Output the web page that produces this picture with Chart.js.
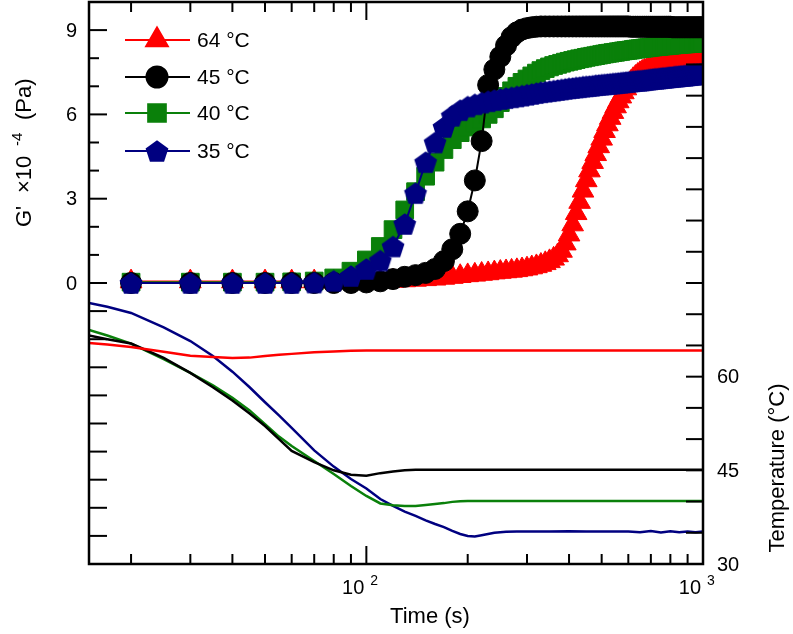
<!DOCTYPE html>
<html>
<head>
<meta charset="utf-8">
<script src="https://cdn.jsdelivr.net/npm/chart.js@4.4.1/dist/chart.umd.min.js"></script>
<style>
  html, body { margin: 0; padding: 0; background: #fff; }
  #wrap { width: 793px; height: 634px; }
</style>
</head>
<body>
<div id="wrap"><canvas id="gelChart" width="793" height="634"></canvas></div>
<script>
// sampling times of the G' measurements (s)
const times = [20,30,40,50,60,70,80,90,100,110,120,130,140,150,160,170,180,190,200,210,
  220,230,240,250,260,270,280,290,300,310,320,330,340,350,360,370,380,390,400,410,
  420,430,440,450,460,470,480,490,500,510,520,530,540,550,560,570,580,590,600,610,
  620,630,640,650,660,670,680,690,700,710,720,730,740,750,760,770,780,790,800,810,
  820,830,840,850,860,870,880,890,900,910,920,930,940,950,960,970,980,990,1000];

// G' x 10^-4 (Pa)
const g64 = [0.05,0.05,0.05,0.05,0.05,0.05,0.05,0.05,0.05,
  0.06,0.07,0.09,0.11,0.13,0.15,0.18,0.21,0.24,0.27,
  0.29,0.32,0.34,0.37,0.39,0.41,0.43,0.45,0.48,0.51,
  0.55,0.59,0.64,0.7,0.77,0.86,0.98,1.14,1.4,1.72,
  2.08,2.48,2.88,3.28,3.65,4.0,4.3,4.58,4.86,5.13,
  5.4,5.64,5.87,6.08,6.28,6.46,6.63,6.78,6.92,7.04,
  7.15,7.25,7.33,7.4,7.46,7.51,7.55,7.58,7.61,7.63,
  7.65,7.67,7.68,7.69,7.7,7.71,7.72,7.73,7.73,7.74,
  7.75,7.75,7.76,7.76,7.77,7.77,7.78,7.78,7.79,7.79,
  7.8,7.8,7.8,7.81,7.81,7.81,7.82,7.82,7.82,7.83];
const g45 = [0,0,0,0,0,0,0,0,0.02,
  0.06,0.14,0.22,0.28,0.36,0.5,0.78,1.2,1.75,2.55,
  3.65,5.05,7.05,7.6,8.05,8.45,8.75,8.92,9.02,9.07,
  9.1,9.12,9.13,9.13,9.13,9.13,9.13,9.13,9.13,9.13,
  9.13,9.13,9.13,9.13,9.13,9.13,9.13,9.13,9.13,9.13,
  9.13,9.13,9.13,9.13,9.13,9.13,9.13,9.13,9.13,9.13,
  9.12,9.12,9.12,9.12,9.12,9.12,9.12,9.12,9.12,9.12,
  9.12,9.12,9.12,9.12,9.12,9.12,9.12,9.12,9.12,9.12,
  9.1,9.1,9.1,9.1,9.1,9.1,9.1,9.1,9.1,9.1,
  9.1,9.1,9.1,9.1,9.1,9.1,9.1,9.1,9.1,9.1];
const g40 = [0.03,0.03,0.03,0.03,0.04,0.07,0.18,0.42,0.82,
  1.3,1.9,2.6,3.25,3.8,4.3,4.75,5.1,5.35,5.55,
  5.7,5.84,6.0,6.2,6.42,6.64,6.84,7.0,7.14,7.26,
  7.37,7.47,7.56,7.63,7.69,7.74,7.78,7.82,7.86,7.89,
  7.92,7.95,7.98,8.0,8.03,8.05,8.07,8.09,8.11,8.13,
  8.15,8.17,8.18,8.2,8.21,8.23,8.24,8.26,8.27,8.28,
  8.29,8.31,8.32,8.33,8.34,8.35,8.36,8.37,8.38,8.39,
  8.4,8.41,8.41,8.42,8.43,8.44,8.44,8.45,8.46,8.46,
  8.47,8.48,8.48,8.49,8.49,8.5,8.5,8.51,8.51,8.52,
  8.52,8.53,8.53,8.54,8.54,8.54,8.55,8.55,8.55,8.56];
const g35 = [0,0,0,0,0,0.02,0.08,0.25,0.5,
  0.8,1.3,2.1,3.2,4.3,5.0,5.55,5.95,6.15,6.28,
  6.36,6.42,6.47,6.51,6.55,6.58,6.61,6.64,6.67,6.7,
  6.73,6.76,6.79,6.81,6.83,6.85,6.87,6.89,6.91,6.93,
  6.94,6.96,6.97,6.99,7.0,7.01,7.02,7.04,7.05,7.06,
  7.07,7.08,7.09,7.1,7.11,7.12,7.13,7.14,7.15,7.16,
  7.17,7.18,7.19,7.2,7.2,7.21,7.22,7.23,7.24,7.25,
  7.26,7.27,7.27,7.28,7.29,7.3,7.3,7.31,7.32,7.33,
  7.33,7.34,7.35,7.35,7.36,7.37,7.37,7.38,7.38,7.39,
  7.4,7.4,7.41,7.42,7.42,7.43,7.43,7.44,7.44,7.45];

// temperature logs (°C)
const tempTimes = [15,17,20,25,30,35,40,45,50,55,60,70,80,90,100,110,120,130,140,150,
  160,170,180,190,200,210,220,240,260,280,300,350,400,450,500,550,600,650,700,750,
  800,850,900,950,1000];
const t64 = [65.4,65.15,64.75,64.0,63.35,63.15,63.0,63.05,63.3,63.5,
  63.65,63.9,64.05,64.15,64.2,64.2,64.2,64.2,64.2,64.2,
  64.2,64.2,64.2,64.2,64.2,64.2,64.2,64.2,64.2,64.2,
  64.2,64.2,64.2,64.2,64.2,64.2,64.2,64.2,64.2,64.2,
  64.2,64.2,64.2,64.2,64.2];
const t45 = [66.6,66.0,65.3,63.0,60.6,58.3,56.2,54.1,52.1,50.0,
  48.1,46.3,45.0,44.3,44.15,44.55,44.8,45.0,45.1,45.1,
  45.1,45.1,45.1,45.1,45.1,45.1,45.1,45.1,45.1,45.1,
  45.1,45.1,45.1,45.1,45.1,45.1,45.1,45.1,45.1,45.1,
  45.1,45.1,45.1,45.1,45.1];
const t40 = [67.5,66.6,65.3,62.8,60.6,58.6,56.6,54.6,52.4,50.4,
  48.9,46.5,44.4,42.5,40.9,39.7,39.4,39.3,39.3,39.45,
  39.6,39.75,39.95,40.05,40.1,40.1,40.1,40.1,40.1,40.1,
  40.1,40.1,40.1,40.1,40.1,40.1,40.1,40.1,40.1,40.1,
  40.1,40.1,40.1,40.1,40.1];
const t35 = [71.8,71.2,70.2,67.9,65.7,63.3,60.8,58.3,55.9,53.8,
  51.8,48.2,45.6,43.6,42.1,40.4,39.3,38.4,37.7,37.0,
  36.4,35.9,35.3,34.8,34.5,34.4,34.6,35.0,35.15,35.2,
  35.2,35.2,35.25,35.2,35.2,35.2,35.2,35.1,35.3,35.05,
  35.25,35.1,35.2,35.1,35.2];

const seriesLabels = ['64 °C', '45 °C', '40 °C', '35 °C'];

// axis ticks
const xMinorTicks = [20,30,40,50,60,70,80,90,200,300,400,500,600,700,800,900];
const xMajorTicks = [100];
const xTickLabels = [[100, '2'], [1000, '3']];
const gTicks = [-9,-8,-7,-6,-5,-4,-3,-2,-1,0,1,2,3,4,5,6,7,8,9];
const gTickLabels = [0, 3, 6, 9];
const tempTicks = [35,40,45,50,55,60,65,70,75,80,85,90,95,100,105,110,115];
const tempTickLabels = [30, 45, 60];

const FONT = "'Liberation Sans', Arial, Helvetica, sans-serif";
const RED = '#ff0000', BLACK = '#000000', GREEN = '#0a800a', NAVY = '#000080';

function pentagon(color, r) {
    const c = document.createElement('canvas');
    const s = Math.ceil(2 * r) + 2;
    c.width = s;
    c.height = s;
    const g = c.getContext('2d');
    const shift = (r - r * Math.cos(Math.PI / 5)) / 2;
    g.fillStyle = color;
    g.beginPath();
    for (let k = 0; k < 5; k++) {
        const a = -Math.PI / 2 + k * 2 * Math.PI / 5;
        const px = s / 2 + r * Math.cos(a);
        const py = s / 2 + shift + r * Math.sin(a);
        if (k === 0) g.moveTo(px, py); else g.lineTo(px, py);
    }
    g.closePath();
    g.fill();
    return c;
}
const pentaImg = pentagon(NAVY, 12);

function pairs(xs, ys) {
    return xs.map((x, i) => ({ x: x, y: ys[i] }));
}

function gSet(label, values, color, style, radius) {
    return {
        label: label,
        data: pairs(times, values),
        yAxisID: 'y',
        borderColor: color,
        backgroundColor: color,
        borderWidth: 2,
        pointStyle: style,
        pointRadius: radius,
        pointBorderWidth: 1,
        pointBackgroundColor: color,
        pointBorderColor: color,
        clip: 0
    };
}

function tSet(label, values, color) {
    return {
        label: label,
        data: pairs(tempTimes, values),
        yAxisID: 'y2',
        borderColor: color,
        borderWidth: 2.5,
        pointRadius: 0,
        fill: false,
        clip: 0
    };
}

const dsRed = gSet(seriesLabels[0], g64, RED, 'triangle', 12.5);
const dsBlack = gSet(seriesLabels[1], g45, BLACK, 'circle', 10.5);
const dsGreen = gSet(seriesLabels[2], g40, GREEN, 'rect', 12.5);
const dsBlue = gSet(seriesLabels[3], g35, NAVY, pentaImg, 12);

const axesPlugin = {
    id: 'axesPlugin',
    afterDraw(chart) {
        const ctx = chart.ctx;
        const a = chart.chartArea;
        const sx = chart.scales.x, sy = chart.scales.y, st = chart.scales.y2;
        const seg = (x1, y1, x2, y2) => {
            ctx.beginPath();
            ctx.moveTo(x1, y1);
            ctx.lineTo(x2, y2);
            ctx.stroke();
        };
        ctx.save();
        ctx.strokeStyle = '#000';
        ctx.lineWidth = 2;
        xMinorTicks.forEach(v => {
            const p = sx.getPixelForValue(v);
            seg(p, a.bottom, p, a.bottom - 10);
            seg(p, a.top, p, a.top + 10);
        });
        xMajorTicks.forEach(v => {
            const p = sx.getPixelForValue(v);
            seg(p, a.bottom, p, a.bottom - 18);
            seg(p, a.top, p, a.top + 18);
        });
        gTicks.forEach(v => {
            const p = sy.getPixelForValue(v);
            const len = (v <= 0 || v % 3 === 0) ? 18 : 10;
            seg(a.left, p, a.left + len, p);
        });
        tempTicks.forEach(v => {
            const p = st.getPixelForValue(v);
            seg(a.right, p, a.right - 17, p);
        });
        ctx.lineWidth = 2.5;
        ctx.strokeRect(a.left, a.top, a.right - a.left, a.bottom - a.top);

        // tick labels
        ctx.fillStyle = '#000';
        ctx.font = '20px ' + FONT;
        ctx.textBaseline = 'middle';
        ctx.textAlign = 'right';
        gTickLabels.forEach(v => ctx.fillText(String(v), a.left - 12, sy.getPixelForValue(v) + 1));
        ctx.textAlign = 'left';
        tempTickLabels.forEach(v => ctx.fillText(String(v), a.right + 14, st.getPixelForValue(v) + 1));
        ctx.textBaseline = 'alphabetic';
        xTickLabels.forEach(([v, e]) => {
            const p = sx.getPixelForValue(v);
            ctx.font = '20px ' + FONT;
            ctx.textAlign = 'right';
            ctx.fillText('10', p - 2, 594);
            ctx.font = '14px ' + FONT;
            ctx.textAlign = 'left';
            ctx.fillText(e, p + 4, 585);
        });

        // axis titles
        ctx.font = '22px ' + FONT;
        ctx.textAlign = 'center';
        ctx.fillText('Time (s)', 430, 623);

        ctx.save();
        ctx.translate(784, 468);
        ctx.rotate(-Math.PI / 2);
        ctx.textAlign = 'center';
        ctx.fillText('Temperature (°C)', 0, 0);
        ctx.restore();

        ctx.save();
        ctx.translate(31, 153);
        ctx.rotate(-Math.PI / 2);
        ctx.textAlign = 'left';
        ctx.font = '22px ' + FONT;
        ctx.fillText("G'", -74, 0);
        ctx.fillText('\u00d710', -40, 0);
        ctx.fillText('(Pa)', 33, 0);
        ctx.font = '15px ' + FONT;
        ctx.fillText('-4', 7, -9);
        ctx.restore();

        // legend inside the plot
        const rows = [[dsRed, 40], [dsBlack, 77], [dsGreen, 113], [dsBlue, 151]];
        rows.forEach(([ds, y]) => {
            ctx.strokeStyle = ds.borderColor;
            ctx.fillStyle = ds.borderColor;
            ctx.lineWidth = 2;
            seg(125, y, 190, y);
            Chart.helpers.drawPoint(ctx, {
                pointStyle: ds.pointStyle,
                radius: ds.pointRadius,
                rotation: 0,
                borderWidth: 1
            }, 157, y);
            ctx.fillStyle = '#000';
            ctx.font = '21px ' + FONT;
            ctx.textAlign = 'left';
            ctx.textBaseline = 'middle';
            ctx.fillText(ds.label, 197, y + 1);
        });
        ctx.restore();
    }
};

const config = {
    type: 'line',
    data: {
        datasets: [
            dsBlue, dsBlack, dsGreen, dsRed,
            tSet('T 64', t64, RED),
            tSet('T 45', t45, BLACK),
            tSet('T 40', t40, GREEN),
            tSet('T 35', t35, NAVY)
        ]
    },
    options: {
        responsive: false,
        animation: false,
        devicePixelRatio: 1,
        layout: { autoPadding: false, padding: { top: 2, left: 0, right: 0, bottom: 0 } },
        plugins: {
            legend: { display: false },
            tooltip: { enabled: false },
            title: { display: false }
        },
        scales: {
            x: {
                type: 'logarithmic',
                min: 15,
                max: 1000,
                grid: { display: false },
                border: { display: false },
                ticks: { display: false },
                afterFit: s => { s.height = 70; }
            },
            y: {
                position: 'left',
                min: -10,
                max: 10,
                grid: { display: false },
                border: { display: false },
                ticks: { display: false },
                afterFit: s => { s.width = 89; }
            },
            y2: {
                position: 'right',
                min: 30,
                max: 120,
                grid: { display: false },
                border: { display: false },
                ticks: { display: false },
                afterFit: s => { s.width = 90; }
            }
        }
    },
    plugins: [axesPlugin]
};

const gelChart = new Chart(document.getElementById('gelChart'), config);
</script>
</body>
</html>
